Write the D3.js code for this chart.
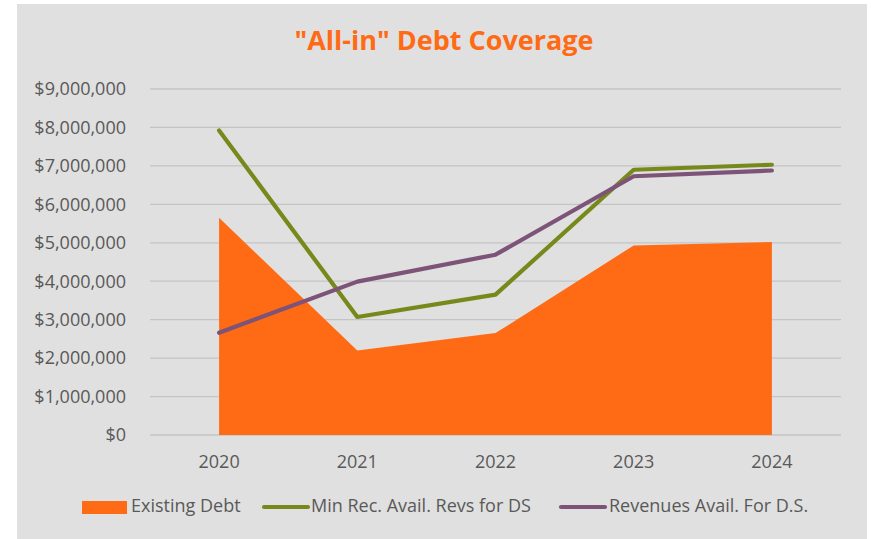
<!DOCTYPE html>
<html><head><meta charset="utf-8">
<script src="https://cdn.jsdelivr.net/npm/d3@7"></script>
<style>body{margin:0;background:#fff;} text{font-family:"Open Sans",Lato,sans-serif;}</style>
</head><body>
<svg id="c" width="871" height="539"></svg>
<script>
const years = ["2020","2021","2022","2023","2024"];
const existingDebt = [5650000, 2200000, 2650000, 4930000, 5020000];
const minRecRevs = [7920000, 3070000, 3650000, 6900000, 7030000];
const revsAvail = [2660000, 3990000, 4690000, 6730000, 6880000];
const yTicks = [0,1000000,2000000,3000000,4000000,5000000,6000000,7000000,8000000,9000000];
const legendLabels = ["Existing Debt","Min Rec. Avail. Revs for DS","Revenues Avail. For D.S."];
const title = "\"All-in\" Debt Coverage";

const svg = d3.select("#c");
svg.append("rect").attr("x",17).attr("y",4).attr("width",850).attr("height",535).attr("fill","#e0e0e0");

const x = d3.scaleBand().domain(years).range([150,841]);
const cx = d => x(d) + x.bandwidth()/2;
const y = d3.scaleLinear().domain([0,9000000]).range([435,89]);

// grid
svg.append("g").selectAll("line").data(yTicks).join("line")
  .attr("x1",150).attr("x2",841).attr("y1",d=>y(d)).attr("y2",d=>y(d))
  .attr("stroke","#c4c4c4").attr("stroke-width",1.3);

const fmt = d => "$" + d3.format(",")(d);
svg.append("g").selectAll("text").data(yTicks).join("text")
  .attr("x",126).attr("y",d=>y(d)).attr("dy","0.35em").attr("text-anchor","end")
  .attr("fill","#595959").style("font-size","18px").text(fmt);

svg.append("g").selectAll("text").data(years).join("text")
  .attr("x",d=>cx(d)).attr("y",462).attr("dy","0.35em").attr("text-anchor","middle")
  .attr("fill","#595959").style("font-size","18px").text(d=>d);

const area = d3.area().x((d,i)=>cx(years[i])).y0(y(0)).y1(d=>y(d));
svg.append("path").datum(existingDebt).attr("d",area).attr("fill","#ff6b14");

const line = d3.line().x((d,i)=>cx(years[i])).y(d=>y(d));
svg.append("path").datum(minRecRevs).attr("d",line).attr("fill","none")
  .attr("stroke","#78891c").attr("stroke-width",4.2).attr("stroke-linecap","round").attr("stroke-linejoin","round");
svg.append("path").datum(revsAvail).attr("d",line).attr("fill","none")
  .attr("stroke","#7d5378").attr("stroke-width",4.2).attr("stroke-linecap","round").attr("stroke-linejoin","round");

svg.append("text").attr("x",444).attr("y",41).attr("dy","0.35em").attr("text-anchor","middle")
  .attr("fill","#ff6b14").style("font-size","27px").style("font-weight","bold").text(title);

// legend
const lg = svg.append("g");
lg.append("rect").attr("x",82).attr("y",501).attr("width",45).attr("height",13).attr("fill","#ff6b14");
lg.append("text").attr("x",131).attr("y",506).attr("dy","0.35em").attr("fill","#595959").style("font-size","18px").text(legendLabels[0]);
lg.append("line").attr("x1",264).attr("x2",308).attr("y1",507).attr("y2",507).attr("stroke","#78891c").attr("stroke-width",4.2).attr("stroke-linecap","round");
lg.append("text").attr("x",311).attr("y",506).attr("dy","0.35em").attr("fill","#595959").style("font-size","18px").text(legendLabels[1]);
lg.append("line").attr("x1",561).attr("x2",605).attr("y1",507).attr("y2",507).attr("stroke","#7d5378").attr("stroke-width",4.2).attr("stroke-linecap","round");
lg.append("text").attr("x",609).attr("y",506).attr("dy","0.35em").attr("fill","#595959").style("font-size","18px").text(legendLabels[2]);
</script>
</body></html>
